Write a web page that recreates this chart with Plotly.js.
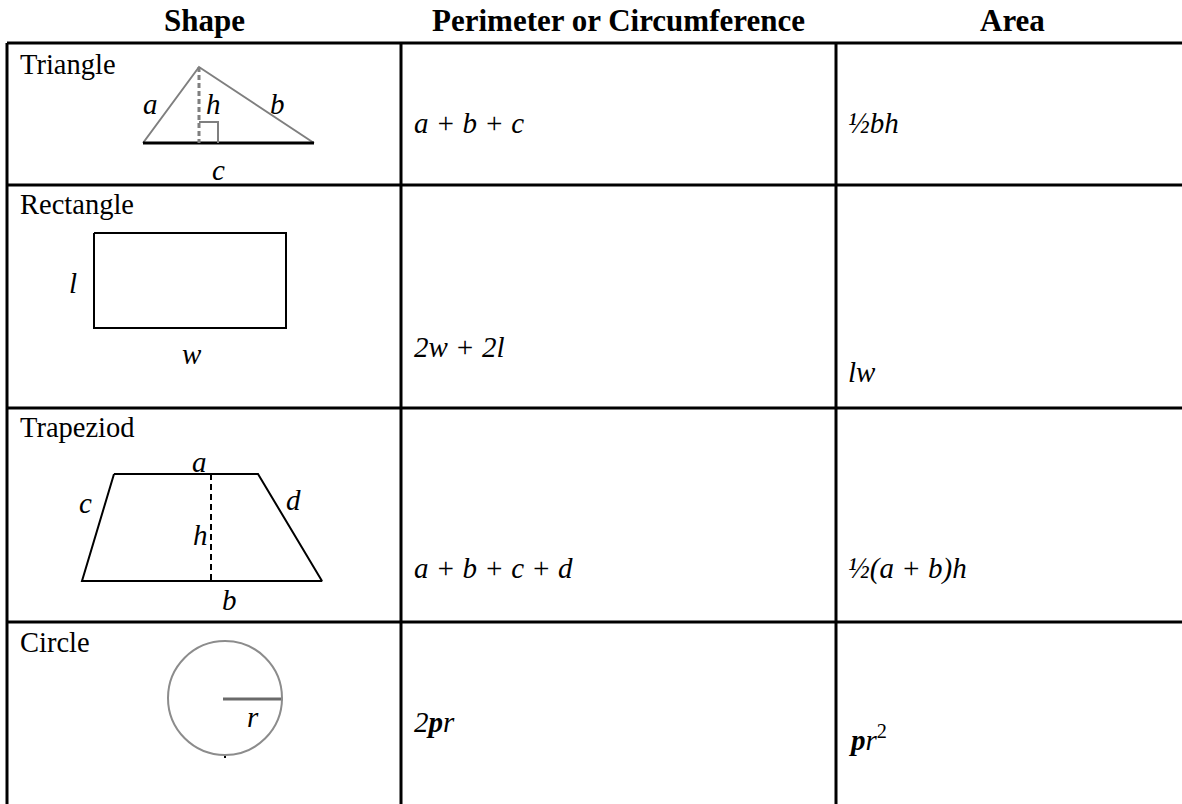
<!DOCTYPE html>
<html>
<head>
<meta charset="utf-8">
<script src="https://cdn.plot.ly/plotly-3.0.1.min.js"></script>
<style>
  html, body { margin: 0; padding: 0; background: #fff; }
  #plot { width: 1182px; height: 804px; }
</style>
</head>
<body>
<div id="plot"></div>
<script>
// table content
const headers = ['Shape', 'Perimeter or Circumference', 'Area'];
const shapeNames = ['Triangle', 'Rectangle', 'Trapeziod', 'Circle'];
const perimeters = ['<i>a + b + c</i>', '<i>2w + 2l</i>', '<i>a + b + c + d</i>', '<i>2</i><b><i>p</i></b><i>r</i>'];
const areas = ['<i>½bh</i>', '<i>lw</i>', '<i>½(a + b)h</i>', '<b><i>p</i></b><i>r</i><sup>2</sup>'];

// figure vertices (pixel space of the page)
const triX = [143, 199, 314];
const triY = [143, 67, 143];
const rectX = [94, 286, 286, 94, 94];
const rectY = [233, 233, 328, 328, 233];
const trapX = [114, 258, 322, 82, 114];
const trapY = [474, 474, 581, 581, 474];
const circ = { cx: 225, cy: 698, r: 57 };

// grid
const colEdges = [7, 401, 836];
const rowEdges = [43, 185, 408, 622];
const W = 1182, H = 804;

const FONT = '"Liberation Serif", "Times New Roman", serif';
const traces = [];

function seg(xs, ys, color, width, dash) {
  traces.push({
    x: xs, y: ys, type: 'scatter', mode: 'lines', hoverinfo: 'skip',
    line: { color: color, width: width, dash: dash || 'solid' }
  });
}

// table rules
rowEdges.forEach(y => seg([colEdges[0], W], [y, y], '#000', 3));
colEdges.forEach(x => seg([x, x], [rowEdges[0], H], '#000', 3));

// triangle
seg([triX[0], triX[1], triX[2]], [triY[0], triY[1], triY[2]], '#7f7f7f', 2);
seg([triX[0], triX[2]], [triY[0], triY[2]], '#000', 3);
seg([triX[1], triX[1]], [triY[1], triY[0]], '#7f7f7f', 3, '5px,3px');
seg([triX[1], triX[1] + 19, triX[1] + 19], [triY[0] - 21, triY[0] - 21, triY[0]], '#7f7f7f', 2);

// rectangle
seg(rectX, rectY, '#000', 2);

// trapezoid + height
seg(trapX, trapY, '#000', 2);
seg([211, 211], [trapY[0], trapY[2]], '#000', 2, '6px,4px');

// circle radius + tick
seg([circ.cx - 2, circ.cx + circ.r + 1], [circ.cy + 1, circ.cy + 1], '#6a6a6a', 3);
seg([circ.cx, circ.cx], [circ.cy + circ.r, circ.cy + circ.r + 3], '#000', 2);

const ann = [];
function txt(x, y, text, size, opts) {
  ann.push(Object.assign({
    x: x, y: y, xref: 'x', yref: 'y', text: text, showarrow: false,
    xanchor: 'left', yanchor: 'middle',
    font: { family: FONT, size: size, color: '#000' }
  }, opts || {}));
}

// headers
const headerX = [204, 618, 1012];
headers.forEach((h, i) => txt(headerX[i], 20, '<b>' + h + '</b>', 31, { xanchor: 'center' }));

// first column names
const nameY = [64, 204, 427, 642];
shapeNames.forEach((s, i) => txt(18, nameY[i], s, 28.5));

// formulas
const perY = [123, 347, 568, 722];
const areaY = [123, 372, 568, 738];
perimeters.forEach((p, i) => txt(412, perY[i], p, 29));
areas.forEach((a, i) => txt(846, areaY[i], a, 29));

// figure labels
const lab = [
  ['a', 150, 104], ['h', 213, 104], ['b', 277, 104], ['c', 218, 170],
  ['l', 73, 283], ['w', 192, 354],
  ['a', 199, 462], ['c', 85, 503], ['d', 293, 500], ['h', 200, 535], ['b', 229, 600],
  ['r', 253, 717]
];
lab.forEach(l => txt(l[1], l[2], '<i>' + l[0] + '</i>', 29, { xanchor: 'center' }));

const layout = {
  width: W, height: H,
  margin: { l: 0, r: 0, t: 0, b: 0 },
  paper_bgcolor: '#fff', plot_bgcolor: '#fff',
  showlegend: false,
  xaxis: { range: [0, W], visible: false, fixedrange: true },
  yaxis: { range: [H, 0], visible: false, fixedrange: true },
  annotations: ann,
  shapes: [{
    type: 'circle', xref: 'x', yref: 'y',
    x0: circ.cx - circ.r, x1: circ.cx + circ.r,
    y0: circ.cy - circ.r, y1: circ.cy + circ.r,
    line: { color: '#8c8c8c', width: 2 }
  }]
};

Plotly.newPlot('plot', traces, layout, { displayModeBar: false, staticPlot: true });
</script>
</body>
</html>
